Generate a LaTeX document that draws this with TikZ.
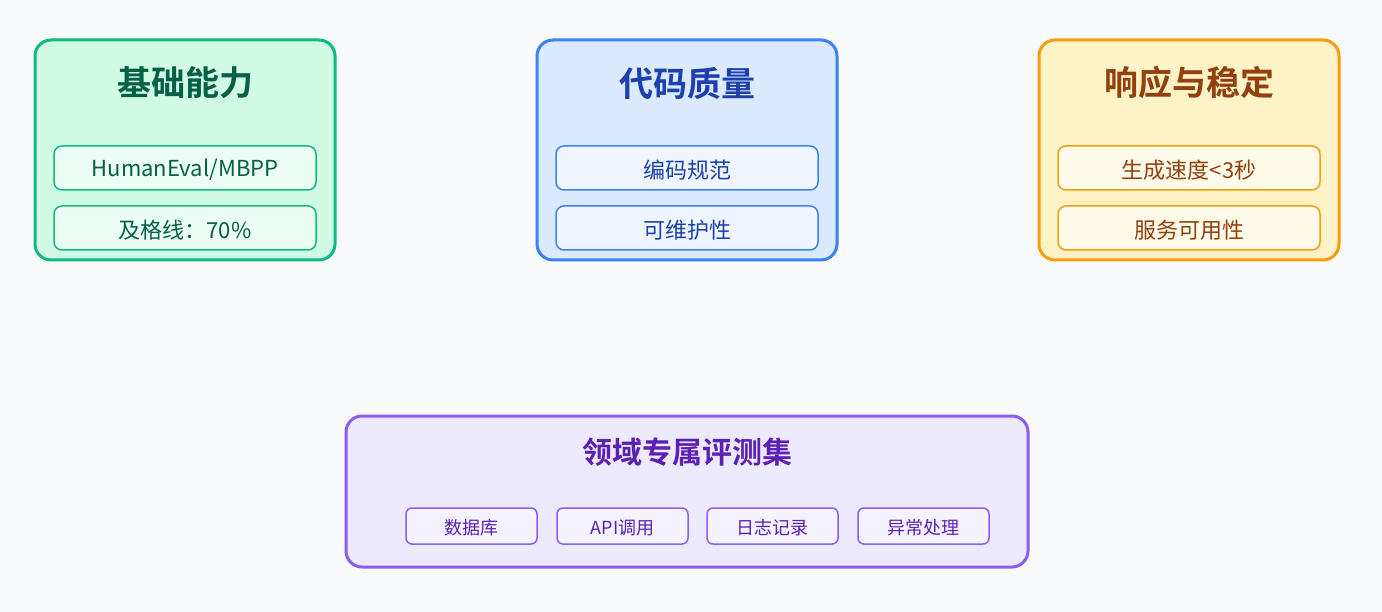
\documentclass[tikz,border=0pt]{standalone}
\usepackage{fontspec}
\setmainfont{Noto Sans CJK SC}
\newfontfamily\cjkb{Noto Sans CJK SC Bold}
\begin{document}
\begin{tikzpicture}[x=1pt,y=-1pt,
  outerbox/.style={draw, line width=3pt, rounded corners=16pt},
  innerbox/.style={draw, line width=1.5pt, rounded corners=8pt},
  titletxt/.style={font=\cjkb\fontsize{34}{40}\selectfont},
  itemtxt/.style={font=\fontsize{22}{26}\selectfont},
  smalltxt/.style={font=\fontsize{18}{22}\selectfont}]
\definecolor{bg}{HTML}{F8FAFC}
\definecolor{gfill}{HTML}{D1FAE5}\definecolor{gline}{HTML}{10B981}\definecolor{gtext}{HTML}{065F46}\definecolor{gin}{HTML}{ECFDF5}
\definecolor{bfill}{HTML}{DBEAFE}\definecolor{bline}{HTML}{3B82F6}\definecolor{btext}{HTML}{1E40AF}\definecolor{bin}{HTML}{EFF6FF}
\definecolor{ofill}{HTML}{FEF3C7}\definecolor{oline}{HTML}{F59E0B}\definecolor{otext}{HTML}{92400E}\definecolor{oin}{HTML}{FFFBEB}
\definecolor{pfill}{HTML}{EDE9FE}\definecolor{pline}{HTML}{8B5CF6}\definecolor{ptext}{HTML}{5B21B6}\definecolor{pin}{HTML}{F5F3FF}
\useasboundingbox (0,0) rectangle (1382,612);
\fill[bg] (0,0) rectangle (1382,612);
% green
\draw[outerbox, draw=gline, fill=gfill] (35,40) rectangle (335,260);
\node[titletxt, text=gtext] (gt) at (185,83) {基础能力};
\draw[innerbox, draw=gline, fill=gin] (54,146) rectangle (316,190);
\node[itemtxt, text=gtext] (g1) at (185,170) {HumanEval/MBPP};
\draw[innerbox, draw=gline, fill=gin] (54,206) rectangle (316,250);
\node[itemtxt, text=gtext] (g2) at (185,230) {及格线：70\%};
% blue
\draw[outerbox, draw=bline, fill=bfill] (537,40) rectangle (837,260);
\node[titletxt, text=btext] (bt) at (687,83) {代码质量};
\draw[innerbox, draw=bline, fill=bin] (556,146) rectangle (818,190);
\node[itemtxt, text=btext] (b1) at (687,170) {编码规范};
\draw[innerbox, draw=bline, fill=bin] (556,206) rectangle (818,250);
\node[itemtxt, text=btext] (b2) at (687,230) {可维护性};
% orange
\draw[outerbox, draw=oline, fill=ofill] (1039,40) rectangle (1339,260);
\node[titletxt, text=otext] (ot) at (1189,83) {响应与稳定};
\draw[innerbox, draw=oline, fill=oin] (1058,146) rectangle (1320,190);
\node[itemtxt, text=otext] (o1) at (1189,170) {生成速度<3秒};
\draw[innerbox, draw=oline, fill=oin] (1058,206) rectangle (1320,250);
\node[itemtxt, text=otext] (o2) at (1189,230) {服务可用性};
% purple
\draw[outerbox, draw=pline, fill=pfill] (346,416) rectangle (1028,567);
\node[titletxt, text=ptext, font=\cjkb\fontsize{30}{35}\selectfont] (pt) at (687,452) {领域专属评测集};
\draw[innerbox, draw=pline, fill=pin, rounded corners=6pt] (406,508) rectangle (537,544);
\node[smalltxt, text=ptext] (p1) at (471.5,527.5) {数据库};
\draw[innerbox, draw=pline, fill=pin, rounded corners=6pt] (557,508) rectangle (688,544);
\node[smalltxt, text=ptext] (p2) at (622.5,527.5) {API调用};
\draw[innerbox, draw=pline, fill=pin, rounded corners=6pt] (707,508) rectangle (838,544);
\node[smalltxt, text=ptext] (p3) at (772.5,527.5) {日志记录};
\draw[innerbox, draw=pline, fill=pin, rounded corners=6pt] (858,508) rectangle (989,544);
\node[smalltxt, text=ptext] (p4) at (923.5,527.5) {异常处理};
\end{tikzpicture}
\end{document}
